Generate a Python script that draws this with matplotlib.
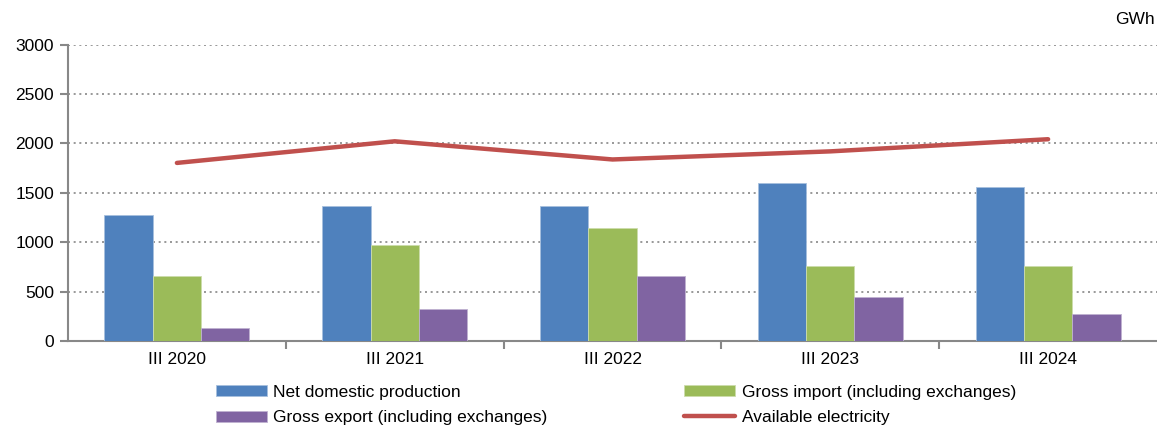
import numpy as np
import matplotlib
matplotlib.use("Agg")
import matplotlib.pyplot as plt
from matplotlib.ticker import FixedLocator

plt.rcParams['font.family'] = ['Liberation Sans', 'DejaVu Sans']

periods = ["III 2020", "III 2021", "III 2022", "III 2023", "III 2024"]
net_production = [1275, 1368, 1366, 1604, 1560]
gross_import = [660, 968, 1140, 755, 758]
gross_export = [133, 325, 663, 450, 275]
available = [1803, 2022, 1838, 1920, 2043]

x = np.arange(len(periods))
w = 0.222
fs = 12.5

fig = plt.figure(figsize=(11.57, 4.28), dpi=100)
ax = fig.add_axes([68 / 1157, 1 - 341 / 428, 1 - 68 / 1157, (341 - 44.7) / 428])

b1 = ax.bar(x - w, net_production, w, color="#4F81BD", edgecolor="#A7C0DE", linewidth=0.6, zorder=3)
b2 = ax.bar(x, gross_import, w, color="#9BBB59", edgecolor="#CDDDAC", linewidth=0.6, zorder=3)
b3 = ax.bar(x + w, gross_export, w, color="#8064A2", edgecolor="#BFB1D0", linewidth=0.6, zorder=3)
l1, = ax.plot(x, available, color="#C0504D", linewidth=3.2, solid_capstyle="round", zorder=4)

ax.set_xlim(-0.5, 4.5)
ax.set_ylim(0, 3000)
ax.set_yticks(np.arange(0, 3001, 500))
ax.yaxis.grid(True, linestyle=(0, (1.2, 2.2)), color="#888888", linewidth=1.2, zorder=0)
ax.set_xticks(x)
ax.set_xticklabels(periods)
ax.xaxis.set_minor_locator(FixedLocator(np.arange(0.5, 4.0, 1)))
ax.tick_params(axis="x", which="major", length=0, labelsize=fs, pad=8)
ax.tick_params(axis="x", which="minor", length=6, width=1.5, color="#888888", direction="out")
ax.tick_params(axis="y", length=6, width=1.5, color="#888888", labelsize=fs, pad=4)

for s in ["top", "right"]:
    ax.spines[s].set_visible(False)
for s in ["left", "bottom"]:
    ax.spines[s].set_color("#888888")
    ax.spines[s].set_linewidth(1.5)

fig.text(1155 / 1157, 1 - 20 / 428, "GWh", ha="right", va="center", fontsize=fs)

fig.legend([b1, b3, b2, l1],
           ["Net domestic production", "Gross export (including exchanges)",
            "Gross import (including exchanges)", "Available electricity"],
           ncol=2, loc="center left", bbox_to_anchor=(207 / 1157, 1 - 405 / 428),
           frameon=False, fontsize=fs, handlelength=2.93, handleheight=0.63,
           handletextpad=0.4, columnspacing=7.85, labelspacing=0.62, borderpad=0)

fig.savefig("out.png", dpi=100)
